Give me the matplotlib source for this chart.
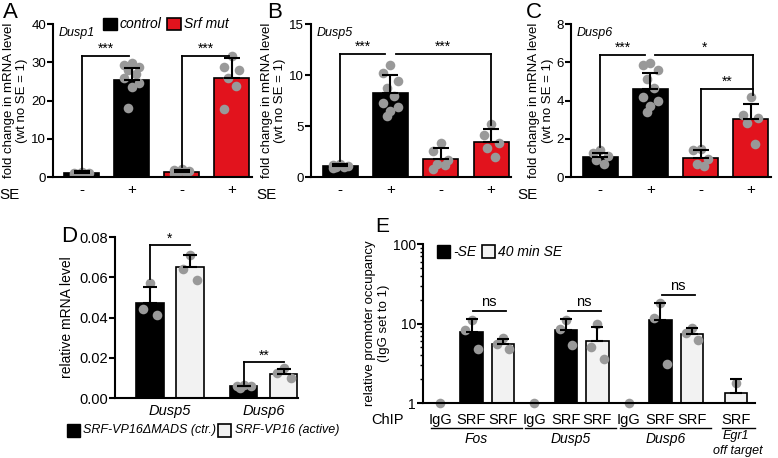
import numpy as np
import matplotlib.pyplot as plt
from matplotlib.ticker import LogLocator, NullFormatter, FixedLocator

plt.rcParams['font.family'] = ['Liberation Sans', 'DejaVu Sans']
plt.rcParams['axes.linewidth'] = 1.5

RED = '#e2131d'
GRAY = '#999999'
LIGHT = '#f2f2f2'

# ---- panels A-C : fold change, 4 bars each (control -/+ , Srf mut -/+)
se_labels = ['-', '+', '-', '+']

dusp1_mean = [1.05, 25.3, 1.3, 26.0]
dusp1_err = [0.5, 3.3, 0.6, 5.0]
dusp1_pts = [[0.6, 0.9, 1.1, 1.3, 1.0, 0.8],
             [29.9, 29.4, 28.8, 28.0, 26.9, 26.0, 24.6, 23.6, 18.1],
             [2.2, 1.8, 1.0, 0.9, 1.5, 1.2],
             [31.6, 28.8, 26.0, 23.8, 17.8, 28.0]]

dusp5_mean = [1.08, 8.26, 1.74, 3.48]
dusp5_err = [0.17, 1.74, 1.1, 1.27]
dusp5_pts = [[1.0, 1.3, 1.1, 0.9, 1.2, 1.0],
             [11.0, 10.2, 9.4, 8.7, 7.9, 6.9, 6.5, 6.0, 7.3],
             [3.3, 2.6, 1.7, 1.15, 0.8, 1.3],
             [5.2, 4.1, 3.3, 2.8, 2.0]]

dusp6_mean = [1.05, 4.58, 1.0, 3.06]
dusp6_err = [0.22, 0.87, 0.4, 0.78]
dusp6_pts = [[1.4, 1.26, 1.08, 0.87, 0.66],
             [5.97, 5.85, 5.6, 5.1, 4.68, 4.19, 4.0, 3.7, 3.4],
             [1.48, 1.43, 0.96, 0.66, 0.58],
             [4.19, 3.23, 3.1, 2.8, 1.71]]

# ---- panel D
d_genes = ['Dusp5', 'Dusp6']
d_mean = [0.0472, 0.0649, 0.0058, 0.0121]
d_err = [0.008, 0.006, 0.0004, 0.0023]
d_pts = [[0.0571, 0.044, 0.041],
         [0.0712, 0.064, 0.0588],
         [0.0066, 0.0058, 0.005, 0.006],
         [0.0149, 0.0124, 0.0099]]

# ---- panel E (log scale), order: Fos IgG/SRF-/SRF+, Dusp5..., Dusp6..., Egr1 SRF
e_labels = ['IgG', 'SRF', 'SRF', 'IgG', 'SRF', 'SRF', 'IgG', 'SRF', 'SRF', 'SRF']
e_groups = ['Fos', 'Dusp5', 'Dusp6']
e_mean = [None, 7.85, 5.6, None, 8.4, 6.0, None, 11.0, 7.5, 1.35]
e_err = [None, 11.3, 6.4, None, 11.3, 9.0, None, 18.2, 8.9, 2.0]
e_pts = [[1.0], [11.2, 8.2, 4.75], [6.6, 5.6, 4.8],
         [1.0], [11.2, 8.5, 5.3], [9.8, 5.0, 3.6],
         [1.0], [17.9, 11.9, 3.1], [8.9, 7.7, 6.2],
         [1.8]]
e_kind = ['igg', 'minus', 'plus', 'igg', 'minus', 'plus', 'igg', 'minus', 'plus', 'plus']


def spread(vals, w):
    order = np.argsort(vals)[::-1]
    pattern = [0, -1, 1, -0.5, 0.5, -1, 1, 0, -0.5, 0.5]
    off = np.zeros(len(vals))
    for r, i in enumerate(order):
        off[i] = pattern[r % len(pattern)] * w
    return off


def style(ax):
    for s in ['top', 'right']:
        ax.spines[s].set_visible(False)
    ax.tick_params(axis='y', width=1.5, length=4, labelsize=9.5, pad=1)
    ax.tick_params(axis='x', length=0, labelsize=11, pad=4)


def bracket(ax, x0, x1, y, y0=None, y1=None, txt=''):
    ax.plot([x0, x1], [y, y], color='k', lw=1.3, zorder=4, clip_on=False)
    if y0 is not None:
        ax.plot([x0, x0], [y0, y], color='k', lw=1.3, zorder=4)
    if y1 is not None:
        ax.plot([x1, x1], [y1, y], color='k', lw=1.3, zorder=4)
    ax.text((x0 + x1) / 2, y, txt, ha='center', va='bottom', fontsize=10, clip_on=False)


def fold_panel(rect, mean, err, pts, ymax, ystep, gene):
    ax = fig.add_axes(rect)
    x = np.arange(4)
    ax.bar(x, mean, width=0.7, color=['k', 'k', RED, RED], edgecolor='k', lw=1.2, zorder=1)
    for i in range(4):
        ax.scatter(x[i] + spread(pts[i], 0.15), pts[i], s=48, color=GRAY, zorder=2, lw=0)
    ax.errorbar(x, mean, yerr=[np.zeros(4), err], fmt='none', ecolor='k', elinewidth=1.5,
                capsize=6, capthick=1.5, zorder=3)
    ax.set_xlim(-0.58, 3.4)
    ax.set_ylim(0, ymax)
    ax.set_yticks(np.arange(0, ymax + 0.01, ystep))
    ax.set_xticks(x)
    ax.set_xticklabels(se_labels)
    ax.set_ylabel('fold change in mRNA level\n(wt no SE = 1)', fontsize=9.5, labelpad=2)
    ax.text(-0.47, ymax * 0.94, gene, style='italic', fontsize=9, va='center')
    ax.text(-0.22, -0.075, 'SE', transform=ax.transAxes, fontsize=11, va='top', ha='center')
    style(ax)
    return ax


fig = plt.figure(figsize=(7.78, 4.58), dpi=100)

axA = fold_panel([0.0681, 0.6135, 0.2558, 0.334], dusp1_mean, dusp1_err, dusp1_pts, 40, 10, 'Dusp1')
bracket(axA, 0, 0.95, 31.7, y0=2.0, txt='***')
bracket(axA, 2, 2.95, 31.7, y0=2.5, txt='***')
# legend A
fig.patches.append(plt.Rectangle((103 / 778, 1 - 30 / 458), 14 / 778, 12 / 458, transform=fig.transFigure,
                                 facecolor='k', edgecolor='k'))
fig.text(120 / 778, 1 - 24 / 458, 'control', style='italic', fontsize=10, va='center')
fig.patches.append(plt.Rectangle((167 / 778, 1 - 30 / 458), 14 / 778, 12 / 458, transform=fig.transFigure,
                                 facecolor=RED, edgecolor='k', lw=1.2))
fig.text(184 / 778, 1 - 24 / 458, 'Srf mut', style='italic', fontsize=10, va='center')

axB = fold_panel([0.3997, 0.6135, 0.2575, 0.334], dusp5_mean, dusp5_err, dusp5_pts, 15, 5, 'Dusp5')
bracket(axB, 0, 0.9, 12.1, y0=1.6, txt='***')
bracket(axB, 1.1, 3, 12.1, y1=5.1, txt='***')

axC = fold_panel([0.734, 0.6135, 0.257, 0.334], dusp6_mean, dusp6_err, dusp6_pts, 8, 2, 'Dusp6')
bracket(axC, 0, 0.9, 6.4, y0=1.55, txt='***')
bracket(axC, 1.1, 3.05, 6.4, y1=4.3, txt='*')
bracket(axC, 2, 3.05, 4.6, y0=1.6, txt='**')

fig.text(3 / 778, 1 - 2 / 458, 'A', fontsize=16, va='top')
fig.text(267 / 778, 1 - 2 / 458, 'B', fontsize=16, va='top')
fig.text(526 / 778, 1 - 2 / 458, 'C', fontsize=16, va='top')
fig.text(61 / 778, 1 - 226 / 458, 'D', fontsize=16, va='top')
fig.text(375 / 778, 1 - 217 / 458, 'E', fontsize=15, va='top')

# ---- panel D
axD = fig.add_axes([0.1478, 0.131, 0.235, 0.3515])
xd = np.array([0, 1, 2.35, 3.35])
axD.bar(xd, d_mean, width=0.68, color=['k', LIGHT, 'k', LIGHT], edgecolor='k', lw=1.2, zorder=1)
for i in range(4):
    axD.scatter(xd[i] + spread(d_pts[i], 0.17), d_pts[i], s=48, color=GRAY, zorder=2, lw=0)
axD.errorbar(xd, d_mean, yerr=[np.zeros(4), d_err], fmt='none', ecolor='k', elinewidth=1.5,
             capsize=5, capthick=1.5, zorder=3)
axD.set_xlim(-0.875, 3.7)
axD.set_ylim(0, 0.08)
axD.set_yticks(np.arange(0, 0.081, 0.02))
axD.set_yticklabels(['%.2f' % v for v in np.arange(0, 0.081, 0.02)])
axD.set_xticks([0.5, 2.85])
axD.set_xticklabels(d_genes, style='italic', fontsize=10.5)
axD.set_ylabel('relative mRNA level', fontsize=10, labelpad=4)
style(axD)
axD.tick_params(axis='y', labelsize=10.5)
axD.tick_params(axis='x', labelsize=10.5)
bracket(axD, 0, 1, 0.0758, y0=0.059, txt='*')
bracket(axD, 2.35, 3.35, 0.0177, y0=0.0072, txt='**')
fig.patches.append(plt.Rectangle((67 / 778, 1 - 437 / 458), 13 / 778, 13 / 458, transform=fig.transFigure,
                                 facecolor='k', edgecolor='k'))
fig.text(83 / 778, 1 - 430.5 / 458, 'SRF-VP16\u0394MADS (ctr.)', style='italic', fontsize=9, va='center')
fig.patches.append(plt.Rectangle((218 / 778, 1 - 437 / 458), 13 / 778, 13 / 458, transform=fig.transFigure,
                                 facecolor=LIGHT, edgecolor='k', lw=1.2))
fig.text(235 / 778, 1 - 430.5 / 458, 'SRF-VP16 (active)', style='italic', fontsize=9, va='center')

# ---- panel E
axE = fig.add_axes([0.5437, 0.120, 0.4267, 0.347])
xe = np.array([0, 1, 2, 3, 4, 5, 6, 7, 8, 9.4])
for i in range(len(xe)):
    if e_mean[i] is not None:
        fc = 'k' if e_kind[i] == 'minus' else LIGHT
        axE.bar(xe[i], e_mean[i] - 1, bottom=1, width=0.7, color=fc, edgecolor='k', lw=1.2, zorder=1)
        axE.errorbar(xe[i], e_mean[i], yerr=[[0], [e_err[i] - e_mean[i]]], fmt='none', ecolor='k',
                     elinewidth=1.5, capsize=4.5, capthick=1.5, zorder=3)
    axE.scatter(xe[i] + spread(e_pts[i], 0.2), e_pts[i], s=48, color=GRAY, zorder=2, lw=0, clip_on=False)
axE.set_yscale('log')
axE.set_ylim(1, 100)
axE.set_xlim(-0.54, 10.0)
axE.yaxis.set_major_locator(FixedLocator([1, 10, 100]))
axE.set_yticklabels(['1', '10', '100'])
axE.yaxis.set_minor_locator(LogLocator(base=10, subs=np.arange(2, 10)))
axE.yaxis.set_minor_formatter(NullFormatter())
axE.tick_params(axis='y', which='minor', width=1.0, length=2.5)
axE.set_xticks([])
axE.set_ylabel('relative promoter occupancy\n(IgG set to 1)', fontsize=9.5, labelpad=2)
style(axE)
axE.tick_params(axis='y', labelsize=10)
for x0 in [1, 4, 7]:
    ty = {1: 14.4, 4: 14.4, 7: 22.8}[x0]
    axE.plot([x0 + 0.05, x0 + 1.1], [ty, ty], color='k', lw=1.3)
    axE.text(x0 + 0.55, ty * 1.05, 'ns', ha='center', va='bottom', fontsize=10.5)
tr = axE.get_xaxis_transform()
for i in range(len(xe)):
    axE.text(xe[i], -0.06, e_labels[i], transform=tr, ha='center', va='top', fontsize=10.5)
axE.text(-1.15, -0.06, 'ChIP', transform=tr, ha='right', va='top', fontsize=10.5)
for g, name in enumerate(e_groups):
    x0 = 3 * g
    axE.plot([x0 - 0.3, x0 + 2.6], [-0.16, -0.16], transform=tr, color='k', lw=1.0, clip_on=False)
    axE.text(x0 + 1.15, -0.18, name, transform=tr, ha='center', va='top', fontsize=10, style='italic')
axE.plot([8.95, 10.0], [-0.16, -0.16], transform=tr, color='k', lw=1.0, clip_on=False)
axE.text(9.4, -0.172, 'Egr1', transform=tr, ha='center', va='top', fontsize=9, style='italic')
axE.text(9.45, -0.262, 'off target', transform=tr, ha='center', va='top', fontsize=9, style='italic')
fig.patches.append(plt.Rectangle((437 / 778, 1 - 258 / 458), 13 / 778, 13 / 458, transform=fig.transFigure,
                                 facecolor='k', edgecolor='k'))
fig.text(453 / 778, 1 - 251.5 / 458, '-SE', style='italic', fontsize=10, va='center')
fig.patches.append(plt.Rectangle((482 / 778, 1 - 258 / 458), 13 / 778, 13 / 458, transform=fig.transFigure,
                                 facecolor=LIGHT, edgecolor='k', lw=1.2))
fig.text(498 / 778, 1 - 251.5 / 458, '40 min SE', style='italic', fontsize=10, va='center')

fig.savefig('out.png', dpi=100)
